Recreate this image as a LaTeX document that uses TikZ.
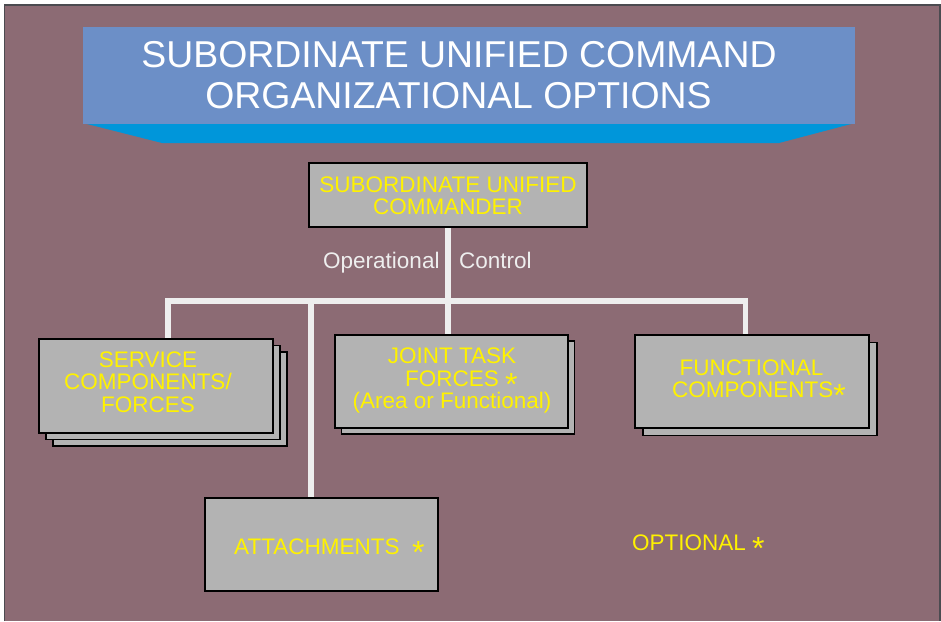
\documentclass[tikz,border=0pt]{standalone}
\usepackage{fontspec}
\setmainfont{Liberation Sans}
\usetikzlibrary{shadows,backgrounds}

\definecolor{slidebg}{RGB}{140,107,116}
\definecolor{titleblue}{RGB}{108,143,199}
\definecolor{titlecyan}{RGB}{0,150,218}
\definecolor{boxgray}{RGB}{179,179,179}
\definecolor{linkwhite}{RGB}{238,238,238}
\definecolor{framegray}{RGB}{75,75,80}

% lowered, larger asterisk for the optional units
\newcommand{\optmark}{\raisebox{-9pt}[0pt][0pt]{\fontsize{32}{32}\selectfont *}}

\tikzset{
  unitbox/.style={draw=black, line width=1.1pt, fill=boxgray, rectangle, inner sep=0pt},
  boxtext/.style={text=yellow, anchor=base, inner sep=0pt, font=\fontsize{22.5}{22.5}\selectfont},
  titletext/.style={text=white, anchor=base, inner sep=0pt, font=\fontsize{37.4}{37.4}\selectfont},
  link/.style={draw=linkwhite, line width=5.5pt, line join=miter}
}

\begin{document}
\begin{tikzpicture}[x=1pt, y=-1pt]
\useasboundingbox (0,0) rectangle (941,621);
\begin{scope}[on background layer]
\fill[white] (0,0) rectangle (941,621);
\fill[slidebg] (5,5) rectangle (940,621);
\draw[framegray, line width=1.5pt] (4.5,621) -- (4.5,5) -- (940,5) -- (940,621);
\end{scope}

% title banner
\fill[titlecyan] (83,123) -- (855,123) -- (779,143) -- (162,143) -- cycle;
\fill[titleblue] (83,27) rectangle (855,124);
\node[titletext] (title1) at (459,67) {SUBORDINATE UNIFIED COMMAND};
\node[titletext] (title2) at (458.5,108) {ORGANIZATIONAL OPTIONS};

% boxes
\node[unitbox, minimum width=278pt, minimum height=64pt] (cmdr) at (448,195) {};
\node[unitbox, minimum width=234pt, minimum height=94pt,
  double copy shadow={shadow xshift=7pt, shadow yshift=-6.5pt}] (svc) at (156,386) {};
\node[unitbox, minimum width=233pt, minimum height=93pt,
  copy shadow={shadow xshift=6.5pt, shadow yshift=-6pt}] (jtf) at (451.5,381.5) {};
\node[unitbox, minimum width=234pt, minimum height=93pt,
  copy shadow={shadow xshift=8pt, shadow yshift=-7.5pt}] (fnc) at (752,381.5) {};
\node[unitbox, minimum width=233pt, minimum height=93pt] (att) at (321.5,544.5) {};

% connectors, behind the boxes
\coordinate (barL) at (168,301);
\coordinate (barR) at (745.5,301);
\coordinate (barA) at (311,301);
\begin{scope}[on background layer]
\path[link] (cmdr.south) -- (cmdr.south |- jtf.north);
\path[link] (svc.north -| barL) -- (barL) -- (barR) -- (barR |- fnc.north);
\path[link] (barA) -- (barA |- att.north);
\end{scope}

% texts
\node[boxtext] (cmdr1) at (448,192) {SUBORDINATE UNIFIED};
\node[boxtext] (cmdr2) at (448,214) {COMMANDER};
\node[boxtext, text=linkwhite, anchor=base west] (opc1) at (323,268) {Operational};
\node[boxtext, text=linkwhite, anchor=base west] (opc2) at (459,268) {Control};

\node[boxtext] (svc1) at (148,367) {SERVICE};
\node[boxtext] (svc2) at (148,389) {COMPONENTS/};
\node[boxtext] (svc3) at (148,412) {FORCES};

\node[boxtext] (jtf1) at (452,363) {JOINT TASK};
\node[boxtext, anchor=base west] (jtf2) at (405,386) {FORCES \optmark};
\node[boxtext] (jtf3) at (452,408) {(Area or Functional)};

\node[boxtext] (fnc1) at (751.5,375) {FUNCTIONAL};
\node[boxtext, anchor=base west] (fnc2) at (672,397) {COMPONENTS\optmark};

\node[boxtext, anchor=base west] (att1) at (234,554) {ATTACHMENTS\ \ \optmark};
\node[boxtext, anchor=base west] (opt) at (632,550) {OPTIONAL \optmark};
\end{tikzpicture}
\end{document}
